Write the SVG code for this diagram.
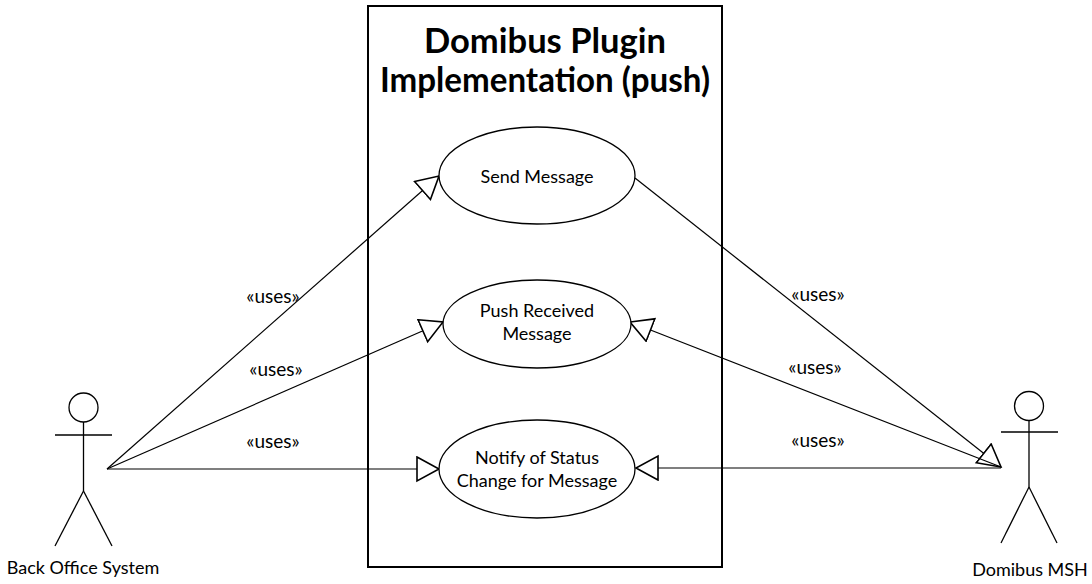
<svg xmlns="http://www.w3.org/2000/svg" width="1092" height="584" viewBox="0 0 1092 584">
<defs>
<marker id="tri" markerUnits="userSpaceOnUse" markerWidth="26" markerHeight="28" refX="23" refY="13" orient="auto">
<path d="M1,1 L23,13 L1,25 Z" fill="#fff" stroke="#000" stroke-width="1.6" stroke-linejoin="miter"/>
</marker>
</defs>
<style>
.t{font-family:Lato,"Liberation Sans",sans-serif;font-size:18px;fill:#000;text-anchor:middle}
.u{font-family:Lato,"Liberation Sans",sans-serif;font-size:19px;fill:#000;text-anchor:middle}
.title{font-family:Lato,"Liberation Sans",sans-serif;font-size:34px;font-weight:bold;fill:#000;text-anchor:middle}
.uc{fill:#fff;stroke:#000;stroke-width:1.3}
.actor{fill:none;stroke:#000;stroke-width:1.3}
.c{fill:none;stroke:#000;stroke-width:1.2}
</style>
<rect width="1092" height="584" fill="#fff"/>
<g id="system">
<rect x="368" y="6" width="354" height="561" fill="#fff" stroke="#000" stroke-width="2"/>
<text class="title" x="545" y="53" textLength="242" lengthAdjust="spacingAndGlyphs">Domibus Plugin</text>
<text class="title" x="545" y="92" textLength="330" lengthAdjust="spacingAndGlyphs">Implementation (push)</text>
</g>
<g id="connectors">
<line class="c" x1="107" y1="469" x2="439" y2="176" marker-end="url(#tri)"/>
<line class="c" x1="107" y1="469" x2="443" y2="322" marker-end="url(#tri)"/>
<line class="c" x1="107" y1="469" x2="439" y2="469" marker-end="url(#tri)"/>
<line class="c" x1="635" y1="178" x2="1001" y2="467" marker-end="url(#tri)"/>
<line class="c" x1="1001" y1="467" x2="630" y2="322" marker-end="url(#tri)"/>
<line class="c" x1="1001" y1="468" x2="636" y2="468" marker-end="url(#tri)"/>
<text class="u" x="273" y="303">«uses»</text>
<text class="u" x="276" y="376">«uses»</text>
<text class="u" x="273" y="448">«uses»</text>
<text class="u" x="818" y="301">«uses»</text>
<text class="u" x="815" y="374">«uses»</text>
<text class="u" x="818" y="447">«uses»</text>
</g>
<g id="uc-send">
<ellipse class="uc" cx="537" cy="175.5" rx="98" ry="48.5"/>
<text class="t" x="537" y="183">Send Message</text>
</g>
<g id="uc-push">
<ellipse class="uc" cx="537" cy="324" rx="94" ry="44"/>
<text class="t" x="537" y="317">Push Received</text>
<text class="t" x="537" y="340">Message</text>
</g>
<g id="uc-notify">
<ellipse class="uc" cx="537" cy="469" rx="98" ry="49"/>
<text class="t" x="537" y="464">Notify of Status</text>
<text class="t" x="537" y="487">Change for Message</text>
</g>
<g id="actor-backoffice">
<circle class="actor" cx="83.5" cy="407.5" r="14.5"/>
<line class="actor" x1="55" y1="435" x2="112" y2="435"/>
<line class="actor" x1="83.5" y1="422" x2="83.5" y2="491"/>
<line class="actor" x1="83.5" y1="491" x2="55" y2="546"/>
<line class="actor" x1="83.5" y1="491" x2="112" y2="546"/>
<text class="t" x="83" y="574">Back Office System</text>
</g>
<g id="actor-msh">
<circle class="actor" cx="1029" cy="406" r="14.5"/>
<line class="actor" x1="1001" y1="432" x2="1058" y2="432"/>
<line class="actor" x1="1029" y1="420.5" x2="1029" y2="487"/>
<line class="actor" x1="1029" y1="487" x2="1001" y2="543"/>
<line class="actor" x1="1029" y1="487" x2="1057" y2="543"/>
<text class="t" x="1030" y="576">Domibus MSH</text>
</g>
</svg>
